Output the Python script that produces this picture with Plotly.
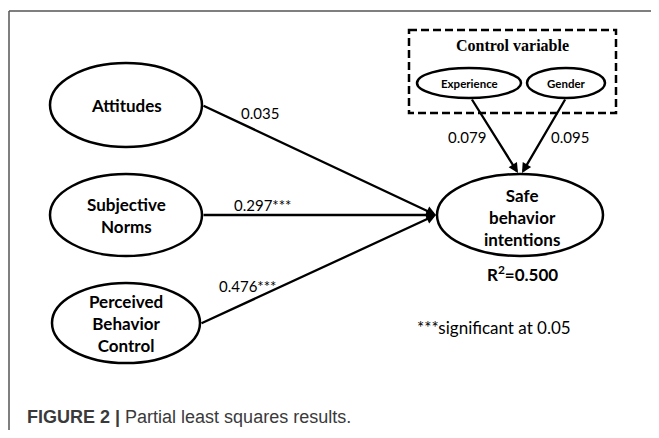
import plotly.graph_objects as go

# ---------------- data ----------------
predictors = ["Attitudes", "Subjective<br>Norms", "Perceived<br>Behavior<br>Control"]
predictor_coef = ["0.035", "0.297***", "0.476***"]
outcome = "Safe<br>behavior<br>intentions"
r_squared = "0.500"
controls = ["Experience", "Gender"]
control_coef = ["0.079", "0.095"]
control_title = "Control variable"
note = "***significant at 0.05"
caption_bold = "FIGURE 2 |"
caption_text = "Partial least squares results."

# ---------------- layout (pixel space of the page) ----------------
pred_pos = [(126, 105), (126, 215), (126, 323)]
pred_r = [(76, 42), (76, 41), (74, 40)]
pred_start = [(202, 105), (202, 215), (200, 324)]
coef_pos = [(260, 113), (262, 205), (247, 286)]
out_c, out_r = (520, 215), (83, 41)
head = (436, 215)
ctrl_pos = [(469, 83), (566, 83)]
ctrl_r = [(52, 15), (39, 15)]
ctrl_start = [(471, 98), (566, 98)]
ctrl_head = [(518, 173), (522, 173)]
ctrl_coef_pos = [(467, 137), (570, 137)]
box = (409, 30, 616, 113)

X0, X1, Y0, Y1 = 8, 651, 8, 430
fig = go.Figure()
fig.add_trace(go.Scatter(x=[X0, X1], y=[Y0, Y1], mode="markers",
                         marker=dict(opacity=0), hoverinfo="skip", showlegend=False))

shapes = []
ann = []
BOLD = "Lato"
REG = "Lato"

# frame
shapes.append(dict(type="line", xref="x", yref="y", x0=9, y0=11, x1=X1, y1=11,
                   line=dict(color="#555", width=1.5)))
shapes.append(dict(type="line", xref="x", yref="y", x0=9, y0=11, x1=9, y1=Y1,
                   line=dict(color="#555", width=1.5)))

def ellipse(c, r, w=2.5):
    shapes.append(dict(type="circle", xref="x", yref="y",
                       x0=c[0]-r[0], x1=c[0]+r[0], y0=c[1]-r[1], y1=c[1]+r[1],
                       line=dict(color="black", width=w)))

def arrow(s, h):
    ann.append(dict(x=h[0], y=h[1], ax=s[0], ay=s[1], axref="x", ayref="y",
                    text="", showarrow=True, arrowhead=2, arrowsize=0.85,
                    arrowwidth=2.3, arrowcolor="black", standoff=0))

for name, c, r, s, cp, coef in zip(predictors, pred_pos, pred_r, pred_start, coef_pos, predictor_coef):
    ellipse(c, r)
    ann.append(dict(x=c[0], y=c[1], text="<b>" + name + "</b>", showarrow=False,
                    font=dict(family=BOLD, size=17, color="black")))
    arrow(s, head)
    ann.append(dict(x=cp[0], y=cp[1], text=coef, showarrow=False,
                    font=dict(family=REG, size=15, color="black")))

ellipse(out_c, out_r)
ann.append(dict(x=out_c[0] + 2, y=out_c[1] + 2, text="<b>" + outcome + "</b>", showarrow=False,
                font=dict(family=BOLD, size=17, color="black")))
ann.append(dict(x=out_c[0] + 2, y=273, text="<b>R<sup>2</sup>=" + r_squared + "</b>", showarrow=False,
                font=dict(family=BOLD, size=17, color="black")))

# control box
shapes.append(dict(type="rect", xref="x", yref="y", x0=box[0], y0=box[1], x1=box[2], y1=box[3],
                   line=dict(color="black", width=2.5, dash="8px,4px")))
ann.append(dict(x=(box[0] + box[2]) / 2, y=45, text="<b>" + control_title + "</b>", showarrow=False,
                font=dict(family="Liberation Serif", size=16, color="black")))
for name, c, r, s, h, cp, coef in zip(controls, ctrl_pos, ctrl_r, ctrl_start, ctrl_head, ctrl_coef_pos, control_coef):
    ellipse(c, r)
    ann.append(dict(x=c[0], y=c[1], text="<b>" + name + "</b>", showarrow=False,
                    font=dict(family=BOLD, size=11.5, color="black")))
    arrow(s, h)
    ann.append(dict(x=cp[0], y=cp[1], text=coef, showarrow=False,
                    font=dict(family=REG, size=15, color="black")))

ann.append(dict(x=494, y=327, text=note, showarrow=False,
                font=dict(family=REG, size=17, color="black")))
ann.append(dict(x=25, y=417, xanchor="left", text="<b>" + caption_bold + "</b> " + caption_text,
                showarrow=False, font=dict(family="Liberation Sans", size=18, color="#3a3a3a")))

fig.update_layout(
    width=X1 - X0, height=Y1 - Y0, margin=dict(l=0, r=0, t=0, b=0),
    paper_bgcolor="white", plot_bgcolor="white",
    xaxis=dict(range=[X0, X1], visible=False, fixedrange=True),
    yaxis=dict(range=[Y1, Y0], visible=False, fixedrange=True),
    shapes=shapes, annotations=ann, showlegend=False,
)
fig.write_html("out.html", config=dict(displayModeBar=False))
